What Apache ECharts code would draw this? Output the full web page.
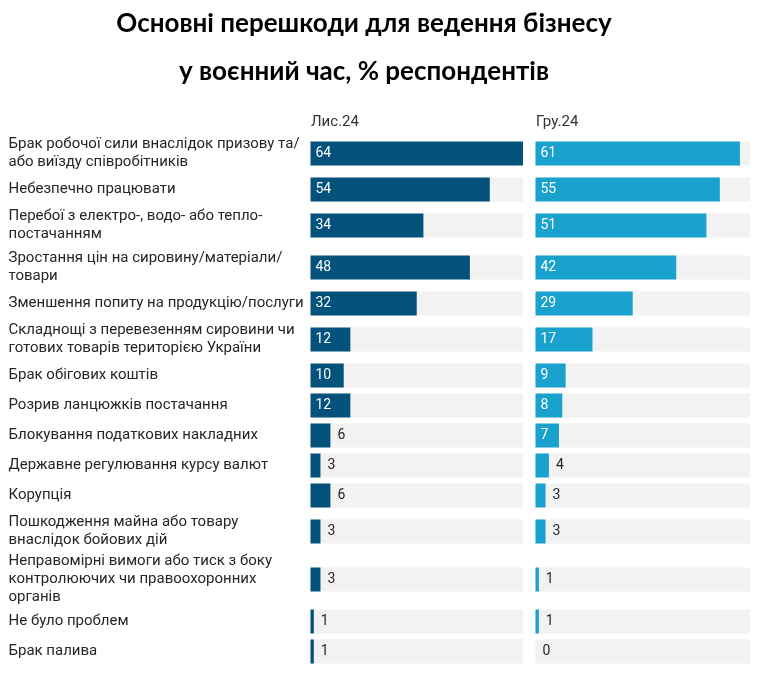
<!DOCTYPE html>
<html>
<head>
<meta charset="utf-8">
<script src="https://cdn.jsdelivr.net/npm/echarts@6/dist/echarts.min.js"></script>
<style>
html,body{margin:0;padding:0;background:#fff;}
#chart{width:764px;height:677px;}
</style>
</head>
<body>
<div id="chart"></div>
<script>
// ---- data ----
const titleLines = ['Основні перешкоди для ведення бізнесу', 'у воєнний час, % респондентів'];
const periods = ['Лис.24', 'Гру.24'];
const categories = [
  'Брак робочої сили внаслідок призову та/\nабо виїзду співробітників',
  'Небезпечно працювати',
  'Перебої з електро-, водо- або тепло-\nпостачанням',
  'Зростання цін на сировину/матеріали/\nтовари',
  'Зменшення попиту на продукцію/послуги',
  'Складнощі з перевезенням сировини чи\nготових товарів територією України',
  'Брак обігових коштів',
  'Розрив ланцюжків постачання',
  'Блокування податкових накладних',
  'Державне регулювання курсу валют',
  'Корупція',
  'Пошкодження майна або товару\nвнаслідок бойових дій',
  'Неправомірні вимоги або тиск з боку\nконтролюючих чи правоохоронних\nорганів',
  'Не було проблем',
  'Брак палива'
];
const nov24 = [64, 54, 34, 48, 32, 12, 10, 12, 6, 3, 6, 3, 3, 1, 1];
const dec24 = [61, 55, 51, 42, 29, 17, 9, 8, 7, 4, 3, 3, 1, 1, 0];
const scaleMax = 64;

// ---- layout helpers: each row gets a block of slots sized by its label's line count ----
const slotLabels = [];
const rowSlot = [];
categories.forEach(function (c) {
  const n = c.split('\n').length;
  const size = 2 * n + 3;
  const mid = n + 1;
  for (let k = 0; k < size; k++) {
    if (k === mid) { rowSlot.push(slotLabels.length); slotLabels.push(c); }
    else slotLabels.push('');
  }
});
function expand(values, fn) {
  const arr = slotLabels.map(function () { return null; });
  values.forEach(function (v, i) { arr[rowSlot[i]] = fn(v, i); });
  return arr;
}
const inside = 7;
function barItem(v) {
  const isIn = v >= inside;
  return {
    value: v,
    label: {
      position: isIn ? 'insideLeft' : 'right',
      distance: isIn ? 5 : 7,
      color: isIn ? '#ffffff' : '#262626'
    }
  };
}
const bgData = expand(nov24, function () { return scaleMax; });

const colors = ['#02527B', '#1AA2CF'];
const font = 'Roboto, "Noto Sans", sans-serif';

const grids = [
  { left: 310.5, width: 212.5, top: 132.5, height: 534 },
  { left: 535.5, width: 214.5, top: 132.5, height: 534 }
];

const chart = echarts.init(document.getElementById('chart'), null, { renderer: 'canvas' });
const option = {
  backgroundColor: '#ffffff',
  animation: false,
  graphic: [
    { type: 'text', x: 364, y: 24, style: { text: titleLines[0], font: 'bold 26px Lato, "Open Sans", sans-serif', fill: '#000', align: 'center', verticalAlign: 'middle' } },
    { type: 'text', x: 364, y: 72, style: { text: titleLines[1], font: 'bold 26px Lato, "Open Sans", sans-serif', fill: '#000', align: 'center', verticalAlign: 'middle' } },
    { type: 'text', x: 311, y: 122, style: { text: periods[0], font: '15px ' + font, fill: '#333', align: 'left', verticalAlign: 'middle' } },
    { type: 'text', x: 536, y: 122, style: { text: periods[1], font: '15px ' + font, fill: '#333', align: 'left', verticalAlign: 'middle' } }
  ],
  grid: grids,
  xAxis: [0, 1].map(function (i) {
    return { type: 'value', gridIndex: i, min: 0, max: scaleMax, show: false };
  }),
  yAxis: [0, 1].map(function (i) {
    return {
      type: 'category', gridIndex: i, data: slotLabels, inverse: true,
      axisLine: { show: false }, axisTick: { show: false }, splitLine: { show: false },
      axisLabel: i === 0 ? {
        show: true, interval: 0, align: 'left', margin: 302,
        fontFamily: font, fontSize: 15, lineHeight: 18, color: '#262626', hideOverlap: false
      } : { show: false }
    };
  }),
  series: [nov24, dec24].reduce(function (acc, vals, i) {
    acc.push({
      type: 'bar', xAxisIndex: i, yAxisIndex: i, data: bgData, barWidth: 24, barGap: '-100%',
      silent: true, itemStyle: { color: '#F2F2F2' }, z: 1
    });
    acc.push({
      type: 'bar', name: periods[i], xAxisIndex: i, yAxisIndex: i, data: expand(vals, barItem), barWidth: 24, barGap: '-100%',
      itemStyle: { color: colors[i] }, z: 2,
      label: { show: true, fontFamily: font, fontSize: 14 }
    });
    return acc;
  }, [])
};
chart.setOption(option);
</script>
</body>
</html>
